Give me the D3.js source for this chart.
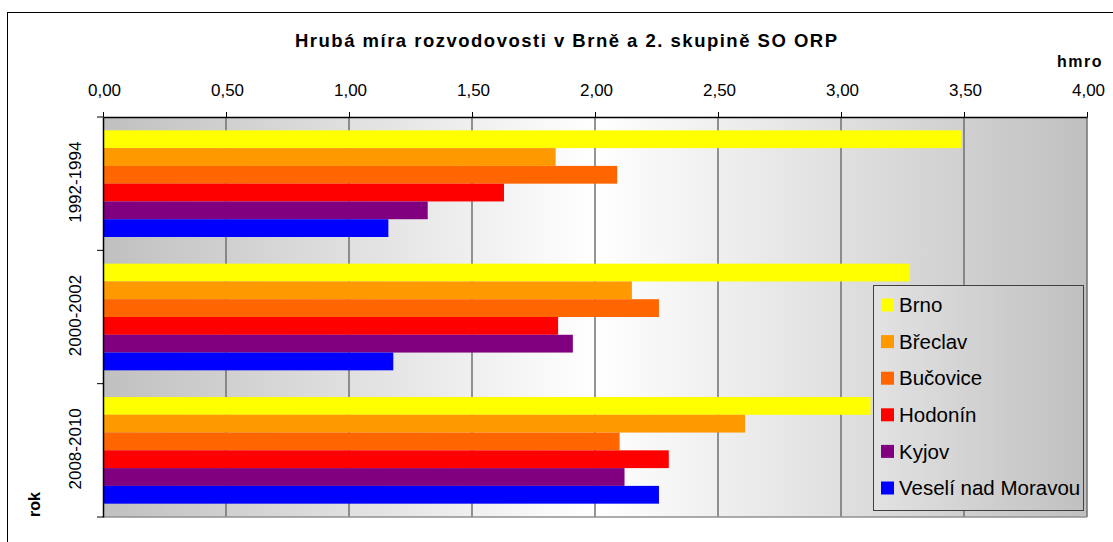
<!DOCTYPE html>
<html>
<head>
<meta charset="utf-8">
<script src="https://cdn.jsdelivr.net/npm/d3@7"></script>
<style>
  body { margin: 0; background: #fff; }
  svg { font-family: "Liberation Sans", Arial, sans-serif; }
</style>
</head>
<body>
<svg id="chart" width="1113" height="542"></svg>
<script>
// data
var periods = ["1992-1994", "2000-2002", "2008-2010"];
var cities = ["Brno", "Břeclav", "Bučovice", "Hodonín", "Kyjov", "Veselí nad Moravou"];
var brno    = [3.49, 3.28, 3.12];
var breclav = [1.84, 2.15, 2.61];
var bucovice = [2.09, 2.26, 2.10];
var hodonin = [1.63, 1.85, 2.30];
var kyjov   = [1.32, 1.91, 2.12];
var veseli  = [1.16, 1.18, 2.26];
var xTicks = [0, 0.5, 1, 1.5, 2, 2.5, 3, 3.5, 4];
var colours = ["#ffff00", "#ff9900", "#ff6600", "#ff0000", "#800080", "#0000ff"];

var series = [brno, breclav, bucovice, hodonin, kyjov, veseli];

var svg = d3.select("#chart");
var plot = { left: 103, right: 1087, top: 117, bottom: 517 };

var defs = svg.append("defs");
var g1 = defs.append("linearGradient").attr("id", "plotBg");
g1.append("stop").attr("offset", "0%").attr("stop-color", "#c0c0c0");
g1.append("stop").attr("offset", "50%").attr("stop-color", "#ffffff");
g1.append("stop").attr("offset", "100%").attr("stop-color", "#c0c0c0");
var g2 = defs.append("linearGradient").attr("id", "legBg");
g2.append("stop").attr("offset", "0%").attr("stop-color", "#e2e2e2");
g2.append("stop").attr("offset", "100%").attr("stop-color", "#c0c0c0");

// outer chart border
svg.append("rect")
  .attr("x", 7.5).attr("y", 12.5)
  .attr("width", 1120).attr("height", 540)
  .attr("fill", "#fff").attr("stroke", "#000").attr("stroke-width", 1);

var x = d3.scaleLinear().domain([0, 4]).range([plot.left, plot.right]);
var y = d3.scaleBand().domain(periods).range([plot.top, plot.bottom]);
// the six bars fill the middle 80% of each band
var yi = d3.scaleBand().domain(d3.range(cities.length))
  .range([y.bandwidth() * 0.1, y.bandwidth() * 0.9]);

svg.append("rect")
  .attr("x", plot.left).attr("y", plot.top)
  .attr("width", plot.right - plot.left).attr("height", plot.bottom - plot.top)
  .attr("fill", "url(#plotBg)");

// vertical gridlines
svg.append("g").selectAll("line")
  .data(xTicks.slice(1))
  .enter().append("line")
  .attr("x1", function(d) { return x(d); })
  .attr("x2", function(d) { return x(d); })
  .attr("y1", plot.top).attr("y2", plot.bottom)
  .attr("stroke", "#707070").attr("stroke-width", 1.5);

// bottom plot border
svg.append("line")
  .attr("x1", plot.left).attr("x2", plot.right)
  .attr("y1", plot.bottom).attr("y2", plot.bottom)
  .attr("stroke", "#909090").attr("stroke-width", 1.5);

// bars
var groups = svg.append("g").selectAll("g")
  .data(periods)
  .enter().append("g")
  .attr("transform", function(d) { return "translate(0," + y(d) + ")"; });

groups.selectAll("rect")
  .data(function(p, pi) { return series.map(function(s, si) { return { si: si, v: s[pi] }; }); })
  .enter().append("rect")
  .attr("x", x(0))
  .attr("y", function(d) { return yi(d.si); })
  .attr("height", yi.bandwidth())
  .attr("width", function(d) { return x(d.v) - x(0); })
  .attr("fill", function(d) { return colours[d.si]; });

// top axis
var xAxis = d3.axisTop(x).tickValues(xTicks).tickSize(5).tickSizeOuter(0)
  .tickFormat(function(d) { return d3.format(".2f")(d).replace(".", ","); });
var gx = svg.append("g").attr("transform", "translate(0," + plot.top + ")").call(xAxis);
gx.select(".domain").attr("stroke", "#000").attr("stroke-width", 1.5);
gx.selectAll(".tick line").attr("stroke", "#000");
gx.selectAll(".tick text").attr("font-size", 17).attr("fill", "#000")
  .attr("font-family", "'Liberation Sans', Arial, sans-serif")
  .attr("x", 1).attr("y", -21).attr("dy", 0);

// left axis
var yAxis = d3.axisLeft(y).tickSize(0).tickSizeOuter(0);
var gy = svg.append("g").attr("transform", "translate(" + plot.left + ",0)").call(yAxis);
gy.select(".domain").attr("stroke", "#000").attr("stroke-width", 1.5);
gy.selectAll(".tick text")
  .attr("font-size", 17).attr("fill", "#000")
  .attr("font-family", "'Liberation Sans', Arial, sans-serif")
  .attr("transform", "translate(-27.5,-1.5) rotate(-90)")
  .attr("text-anchor", "middle").attr("x", 0).attr("dy", "0.35em");
// category boundary ticks
svg.append("g").selectAll("line")
  .data([plot.top].concat(periods.map(function(p) { return y(p) + y.bandwidth(); })))
  .enter().append("line")
  .attr("x1", plot.left - 6).attr("x2", plot.left)
  .attr("y1", function(d) { return d; }).attr("y2", function(d) { return d; })
  .attr("stroke", "#000");

// title and axis titles
svg.append("text")
  .attr("x", 295).attr("y", 47)
  .attr("font-size", 18.5).attr("font-weight", "bold")
  .attr("textLength", 542).attr("lengthAdjust", "spacing")
  .text("Hrubá míra rozvodovosti v Brně a 2. skupině SO ORP");
svg.append("text")
  .attr("x", 1103).attr("y", 67).attr("text-anchor", "end")
  .attr("font-size", 16).attr("font-weight", "bold").attr("letter-spacing", 1.5)
  .text("hmro");
svg.append("text")
  .attr("transform", "translate(40,504.5) rotate(-90)")
  .attr("text-anchor", "middle")
  .attr("font-size", 16).attr("font-weight", "bold")
  .text("rok");

// legend
var leg = svg.append("g").attr("transform", "translate(873,285)");
leg.append("rect")
  .attr("x", 0.5).attr("y", 0.5).attr("width", 210).attr("height", 225)
  .attr("fill", "url(#legBg)").attr("stroke", "#404040").attr("stroke-width", 1);
var items = leg.selectAll("g.item")
  .data(cities)
  .enter().append("g").attr("class", "item")
  .attr("transform", function(d, i) { return "translate(0," + (20 + i * 36.6) + ")"; });
items.append("rect")
  .attr("x", 8).attr("y", -6.5).attr("width", 13).attr("height", 13)
  .attr("fill", function(d, i) { return colours[i]; });
items.append("text")
  .attr("x", 26).attr("y", 0).attr("dy", "0.35em")
  .attr("font-size", 20.5).attr("fill", "#000")
  .text(function(d) { return d; });
</script>
</body>
</html>
